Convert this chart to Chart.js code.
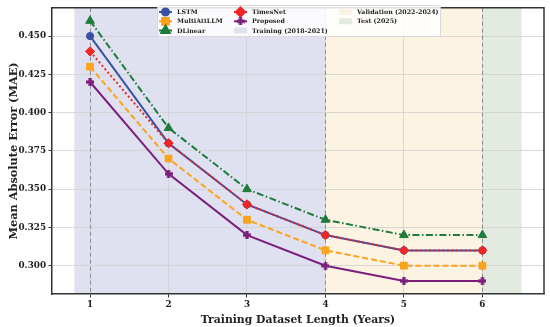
<!DOCTYPE html>
<html>
<head>
<meta charset="utf-8">
<script src="https://cdn.jsdelivr.net/npm/chart.js@4.4.1/dist/chart.umd.min.js"></script>
<style>
  html, body { margin: 0; background: #fff; }
  #wrap { width: 550px; height: 327px; }
</style>
</head>
<body>
<div id="wrap"><canvas id="chart"></canvas></div>
<script>
// data
const years = [1, 2, 3, 4, 5, 6];
const lstm = [0.45, 0.38, 0.34, 0.32, 0.31, 0.31];
const multiAttLLM = [0.43, 0.37, 0.33, 0.31, 0.30, 0.30];
const dLinear = [0.46, 0.39, 0.35, 0.33, 0.32, 0.32];
const timesNet = [0.44, 0.38, 0.34, 0.32, 0.31, 0.31];
const proposed = [0.42, 0.36, 0.32, 0.30, 0.29, 0.29];
const yTicks = [0.300, 0.325, 0.350, 0.375, 0.400, 0.425, 0.450];
const periodLabels = ['Training (2018-2021)', 'Validation (2022-2024)', 'Test (2025)'];
const periodStart = [0.8, 4, 6];
const periodEnd = [4, 6, 6.5];
const boundaries = [1, 4, 6];

const periodColors = ['#e0e1f0', '#fdf3e2', '#e3eadf'];
const FONT = '"DejaVu Serif", serif';

Chart.defaults.font.family = FONT;
Chart.defaults.font.weight = 'bold';
Chart.defaults.color = '#222';

// filled plus marker ('P' in matplotlib)
function plusMarker(color, size) {
  const c = document.createElement('canvas');
  c.width = size; c.height = size;
  const g = c.getContext('2d');
  const t = size * 0.4, o = (size - t) / 2;
  g.fillStyle = color;
  g.fillRect(o, 0, t, size);
  g.fillRect(0, o, size, t);
  return c;
}
const plusPurple = plusMarker('#7b1f7d', 8);

const pts = arr => years.map((x, i) => ({ x, y: arr[i] }));

const series = [
  { label: 'LSTM', data: pts(lstm), borderColor: '#3a52a3', backgroundColor: '#3a52a3',
    borderDash: [], pointStyle: 'circle', pointRadius: 3.6, order: 5 },
  { label: 'MultiAttLLM', data: pts(multiAttLLM), borderColor: '#fba31c', backgroundColor: '#fba31c',
    borderDash: [6, 3], pointStyle: 'rect', pointRadius: 4.8, order: 4 },
  { label: 'DLinear', data: pts(dLinear), borderColor: '#1d7b3b', backgroundColor: '#1d7b3b',
    borderDash: [7, 2.5, 1.5, 2.5], pointStyle: 'triangle', pointRadius: 5, order: 3 },
  { label: 'TimesNet', data: pts(timesNet), borderColor: '#ee2626', backgroundColor: '#ee2626',
    borderDash: [2, 2.5], pointStyle: 'rectRot', pointRadius: 4.6, order: 2 },
  { label: 'Proposed', data: pts(proposed), borderColor: '#7b1f7d', backgroundColor: '#7b1f7d',
    borderDash: [], pointStyle: plusPurple, pointRadius: 4, order: 1 },
];

const backdrop = {
  id: 'backdrop',
  beforeDraw(chart) {
    const { ctx, chartArea: { top, bottom }, scales: { x } } = chart;
    ctx.save();
    periodStart.forEach((s, i) => {
      const x0 = x.getPixelForValue(s), x1 = x.getPixelForValue(periodEnd[i]);
      ctx.fillStyle = periodColors[i];
      ctx.fillRect(x0, top, x1 - x0, bottom - top);
    });
    ctx.restore();
  },
  beforeDatasetsDraw(chart) {
    const { ctx, chartArea: { top, bottom }, scales: { x } } = chart;
    ctx.save();
    ctx.strokeStyle = '#8a8a8a';
    ctx.lineWidth = 1;
    ctx.setLineDash([4, 3]);
    boundaries.forEach(b => {
      const px = Math.round(x.getPixelForValue(b)) + 0.5;
      ctx.beginPath(); ctx.moveTo(px, top); ctx.lineTo(px, bottom); ctx.stroke();
    });
    ctx.restore();
  },
  afterDraw(chart) {
    const { ctx, chartArea: { left, right, top, bottom } } = chart;
    ctx.save();
    // top and right spines
    ctx.strokeStyle = '#333';
    ctx.lineWidth = 1.5;
    ctx.beginPath();
    ctx.moveTo(left, top); ctx.lineTo(right, top); ctx.lineTo(right, bottom);
    ctx.stroke();

    // legend box
    const bx = 157, by = 5, bw = 283, bh = 31;
    ctx.fillStyle = 'rgba(255,255,255,0.85)';
    ctx.strokeStyle = '#d8d8d8';
    ctx.lineWidth = 1;
    ctx.beginPath();
    ctx.roundRect(bx + 0.5, by + 0.5, bw, bh, 2);
    ctx.fill(); ctx.stroke();

    const rows = [12, 21.3, 30.5];
    const cols = [159, 234, 339];
    ctx.font = 'bold 6.3px ' + FONT;
    ctx.textBaseline = 'middle';
    const items = series.map(s => ({ type: 'line', s }))
      .concat(periodLabels.map((l, i) => ({ type: 'patch', label: l, color: periodColors[i] })));
    items.forEach((it, i) => {
      const col = Math.floor(i / 3), row = i % 3;
      const x0 = cols[col], y = rows[row];
      if (it.type === 'line') {
        const s = it.s;
        ctx.strokeStyle = s.borderColor;
        ctx.lineWidth = 2;
        ctx.setLineDash([]);
        ctx.beginPath(); ctx.moveTo(x0, y); ctx.lineTo(x0 + 13, y); ctx.stroke();
        ctx.fillStyle = s.backgroundColor;
        Chart.helpers.drawPoint(ctx, { pointStyle: s.pointStyle, radius: s.pointRadius,
          borderWidth: 1, rotation: 0 }, x0 + 6.5, y);
        ctx.fillStyle = '#222';
        ctx.fillText(s.label, x0 + 18, y + 0.5);
      } else {
        ctx.fillStyle = it.color;
        ctx.fillRect(x0, y - 3, 13, 6);
        ctx.fillStyle = '#222';
        ctx.fillText(it.label, x0 + 18, y + 0.5);
      }
    });
    ctx.restore();
  }
};

const gridOpts = {
  color: '#d0d0d0',
  lineWidth: 0.8,
  borderDash: [3, 3],
  tickColor: '#333',
  tickLength: 3.5,
  tickBorderDash: [],
  tickWidth: 1,
};

new Chart(document.getElementById('chart'), {
  type: 'line',
  data: {
    datasets: series.map(s => ({
      ...s,
      borderWidth: 2,
      pointBorderWidth: 1,
      pointHoverRadius: s.pointRadius,
      fill: false,
      tension: 0,
    })),
  },
  options: {
    responsive: true,
    maintainAspectRatio: false,
    animation: false,
    layout: { padding: { top: 4, right: 4, left: 0, bottom: 0 } },
    plugins: { legend: { display: false }, tooltip: { enabled: false } },
    scales: {
      x: {
        type: 'linear',
        min: 0.515,
        max: 6.785,
        afterBuildTicks: s => { s.ticks = years.map(v => ({ value: v })); },
        afterFit: s => { s.height = 33; },
        ticks: { font: { size: 8.8, weight: 'bold' }, color: '#222', padding: 2,
          callback: v => String(v) },
        grid: gridOpts,
        border: { color: '#333', width: 1.5 },
        title: { display: true, text: 'Training Dataset Length (Years)',
          font: { size: 10.8, weight: 'bold' }, color: '#222', padding: { top: 3, bottom: 0 } },
      },
      y: {
        min: 0.2815,
        max: 0.4685,
        afterBuildTicks: s => { s.ticks = yTicks.map(v => ({ value: v })); },
        afterFit: s => { s.width = 52; },
        ticks: { font: { size: 8.8, weight: 'bold' }, color: '#222', padding: 2.5,
          callback: v => v.toFixed(3) },
        grid: gridOpts,
        border: { color: '#333', width: 1.5 },
        title: { display: true, text: 'Mean Absolute Error (MAE)',
          font: { size: 11.3, weight: 'bold' }, color: '#222', padding: { top: 7, bottom: 0 } },
      },
    },
  },
  plugins: [backdrop],
});
</script>
</body>
</html>
